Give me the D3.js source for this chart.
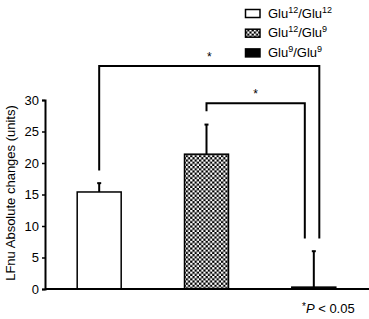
<!DOCTYPE html>
<html>
<head>
<meta charset="utf-8">
<script src="https://cdn.jsdelivr.net/npm/d3@7"></script>
<style>
body { margin: 0; background: #fff; }
text { font-family: "Liberation Sans", Arial, sans-serif; }
</style>
</head>
<body>
<div id="chart"></div>
<script>
// data
var groups = ["Glu12/Glu12", "Glu12/Glu9", "Glu9/Glu9"];
var means = [15.4, 21.4, 0.3];
var errs = [1.4, 4.7, 5.7];
var yTicks = [0, 5, 10, 15, 20, 25, 30];
var legendSup = [["12", "12"], ["12", "9"], ["9", "9"]];

var margin = {top: 100, right: 0, bottom: 30, left: 45},
    width = 369 - margin.left - margin.right,
    height = 289 - margin.top;

var svg = d3.select("#chart").append("svg")
  .attr("width", 369)
  .attr("height", 319);

var defs = svg.append("defs");
var pat = defs.append("pattern")
  .attr("id", "checker")
  .attr("patternUnits", "userSpaceOnUse")
  .attr("width", 4.4).attr("height", 4.4);
pat.append("rect").attr("width", 4.4).attr("height", 4.4).attr("fill", "#000");
pat.append("rect").attr("x", 0).attr("y", 0).attr("width", 2.2).attr("height", 2.2).attr("fill", "#fff");
pat.append("rect").attr("x", 2.2).attr("y", 2.2).attr("width", 2.2).attr("height", 2.2).attr("fill", "#fff");

var fills = ["#fff", "url(#checker)", "#000"];

var g = svg.append("g")
  .attr("transform", "translate(" + margin.left + "," + margin.top + ")");

var x_scale = d3.scaleBand()
  .domain(groups)
  .range([0, 323])
  .paddingInner(0.59)
  .paddingOuter(0.3);

var y_scale = d3.scaleLinear()
  .domain([0, 30])
  .range([height, 0]);

// bars
g.selectAll(".bar")
  .data(groups)
  .enter().append("rect")
  .attr("x", function(d) { return x_scale(d); })
  .attr("y", function(d, i) { return y_scale(means[i]); })
  .attr("width", x_scale.bandwidth())
  .attr("height", function(d, i) { return height - y_scale(means[i]); })
  .attr("fill", function(d, i) { return fills[i]; })
  .attr("stroke", "#000")
  .attr("stroke-width", 1.5);

// error bars
groups.forEach(function(d, i) {
  var cx = x_scale(d) + x_scale.bandwidth() / 2;
  g.append("line")
    .attr("x1", cx).attr("x2", cx)
    .attr("y1", y_scale(means[i])).attr("y2", y_scale(means[i] + errs[i]))
    .attr("stroke", "#000").attr("stroke-width", 2);
  g.append("line")
    .attr("x1", cx - 2).attr("x2", cx + 2)
    .attr("y1", y_scale(means[i] + errs[i])).attr("y2", y_scale(means[i] + errs[i]))
    .attr("stroke", "#000").attr("stroke-width", 2);
});

// axes
var yAxis = g.append("g")
  .call(d3.axisLeft(y_scale).tickValues(yTicks).tickSize(3).tickPadding(3));
yAxis.select(".domain").attr("stroke-width", 2);
yAxis.selectAll(".tick line").attr("stroke-width", 1.5);
yAxis.selectAll("text").attr("font-size", 13).attr("fill", "#000")
  .attr("font-family", "Liberation Sans, Arial, sans-serif");

g.append("line")
  .attr("x1", 0).attr("x2", width)
  .attr("y1", height).attr("y2", height)
  .attr("stroke", "#000").attr("stroke-width", 2);

// y label
svg.append("text")
  .attr("transform", "translate(15,193) rotate(-90)")
  .attr("text-anchor", "middle")
  .attr("font-size", 13)
  .text("LFnu Absolute changes (units)");

// significance brackets
function cxOf(i) { return x_scale(groups[i]) + x_scale.bandwidth() / 2; }
var brackets = [
  {a: 0, b: 2, level: 35.4, startA: 18.8, endB: 8.0, dxB: 5.5},
  {a: 1, b: 2, level: 29.5, startA: 28.2, endB: 8.0, dxB: -9}
];
brackets.forEach(function(br) {
  var xa = cxOf(br.a), xb = cxOf(br.b) + br.dxB;
  g.append("path")
    .attr("d", "M" + xa + "," + y_scale(br.startA) +
               "V" + y_scale(br.level) +
               "H" + xb +
               "V" + y_scale(br.endB))
    .attr("fill", "none").attr("stroke", "#000").attr("stroke-width", 2);
  g.append("text")
    .attr("x", (xa + xb) / 2)
    .attr("y", y_scale(br.level) - 5)
    .attr("text-anchor", "middle")
    .attr("font-size", 12)
    .text("*");
});

// legend
var legend = svg.append("g").attr("transform", "translate(245,9.5)");
groups.forEach(function(d, i) {
  var row = legend.append("g").attr("transform", "translate(0," + (i * 19.7) + ")");
  row.append("rect")
    .attr("x", 0.5).attr("y", 0).attr("width", 14.5).attr("height", 8)
    .attr("fill", fills[i]).attr("stroke", "#000").attr("stroke-width", 1.5);
  var t = row.append("text").attr("x", 23).attr("y", 8).attr("font-size", 13);
  t.append("tspan").text("Glu");
  t.append("tspan").attr("font-size", 9).attr("dy", -5).text(legendSup[i][0]);
  t.append("tspan").attr("dy", 5).text("/Glu");
  t.append("tspan").attr("font-size", 9).attr("dy", -5).text(legendSup[i][1]);
});

// p value note
var note = svg.append("text").attr("x", 302).attr("y", 313).attr("font-size", 13);
note.append("tspan").attr("font-size", 10).attr("dy", -3).text("*");
note.append("tspan").attr("dy", 3).attr("font-style", "italic").text("P");
note.append("tspan").text(" < 0.05");
</script>
</body>
</html>
